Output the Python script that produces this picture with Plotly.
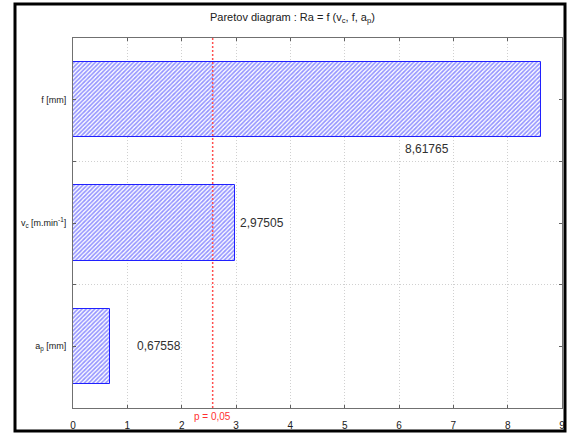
import plotly.graph_objects as go

# ---- data ----
categories = ["f [mm]", "v<sub>c</sub> [m.min<sup>-1</sup>]", "a<sub>p</sub> [mm]"]
effects = [8.61765, 2.97505, 0.67558]
effect_labels = ["8,61765", "2,97505", "0,67558"]
p_limit = 2.5706
p_label = "p = 0,05"
x_ticks = [0, 1, 2, 3, 4, 5, 6, 7, 8, 9]
title_text = "Paretov diagram : Ra = f (v<sub>c</sub>, f, a<sub>p</sub>)"

# ---- styling / layout constants ----
FONT = "Liberation Sans, Arial, sans-serif"
W, H = 568, 434
L, R, T, B = 73, 6, 38, 26
pw, ph = W - L - R, H - T - B

ypos = list(range(len(categories)))[::-1]  # top to bottom

fig = go.Figure()
fig.add_trace(go.Bar(
    x=effects, y=ypos, orientation="h", width=0.61,
    marker=dict(color="white",
                line=dict(color="#2020ff", width=1),
                pattern=dict(shape="/", fgcolor="#2a2aff", bgcolor="white",
                             size=3, solidity=0.55)),
    hoverinfo="skip", showlegend=False,
))

# p-limit line
fig.add_shape(type="line", xref="x", yref="paper", x0=p_limit, x1=p_limit, y0=0, y1=1,
              line=dict(color="#ff5050", width=1.5, dash="2px,2px"), layer="above")
fig.add_annotation(x=p_limit, xref="x", y=0, yref="paper", yanchor="top", yshift=-1,
                   text=p_label, showarrow=False,
                   font=dict(family=FONT, size=10, color="#ff3030"))

# value labels (offsets chosen to match original placement)
label_dx = [-2.1, 0.5, 0.9]
label_dy = [-0.40, 0.0, 0.0]
for v, lab, yp, dx, dy in zip(effects, effect_labels, ypos, label_dx, label_dy):
    fig.add_annotation(x=v + dx, y=yp + dy, xref="x", yref="y", text=lab,
                       showarrow=False, xanchor="center", yanchor="middle",
                       font=dict(family=FONT, size=12, color="#303030"))

# title
fig.add_annotation(x=(292 - L) / pw, xref="paper", y=(H - B - 18) / ph, yref="paper",
                   text=title_text, showarrow=False, xanchor="center", yanchor="middle",
                   font=dict(family=FONT, size=11, color="#202020"))

# outer frame
fig.add_shape(type="rect", xref="paper", yref="paper",
              x0=(15 - L) / pw, x1=(565 - L) / pw,
              y0=(H - B - 431) / ph, y1=(H - B - 4) / ph,
              line=dict(color="black", width=3), fillcolor="rgba(0,0,0,0)", layer="above")

fig.update_xaxes(range=[0, 9], tickvals=x_ticks, ticktext=[str(t) for t in x_ticks],
                 ticks="inside", ticklen=3, tickcolor="#606060",
                 showline=True, linecolor="#707070", linewidth=1, mirror="ticks",
                 showgrid=True, gridcolor="#d0d0d0", griddash="1px,2px", gridwidth=1,
                 zeroline=False, automargin=False,
                 tickfont=dict(family=FONT, size=10, color="#202020"), ticklabelstandoff=8)
fig.update_yaxes(range=[-0.5, len(categories) - 0.5], tickvals=ypos, ticktext=categories,
                 ticks="inside", ticklen=3, tickcolor="#606060",
                 showline=True, linecolor="#707070", linewidth=1, mirror="ticks",
                 showgrid=False, zeroline=False, automargin=False,
                 minor=dict(tickvals=[i + 0.5 for i in range(len(categories) - 1)],
                            ticks="inside", ticklen=3, tickcolor="#606060",
                            showgrid=True, gridcolor="#d0d0d0", griddash="1px,2px", gridwidth=1),
                 tickfont=dict(family=FONT, size=9, color="#202020"), ticklabelstandoff=4)

fig.update_layout(width=W, height=H, margin=dict(l=L, r=R, t=T, b=B, autoexpand=False),
                  plot_bgcolor="white", paper_bgcolor="white", bargap=0)

fig.write_html("out.html", config={"responsive": False},
               post_script="document.body.style.margin='0';document.body.style.overflow='hidden';")
